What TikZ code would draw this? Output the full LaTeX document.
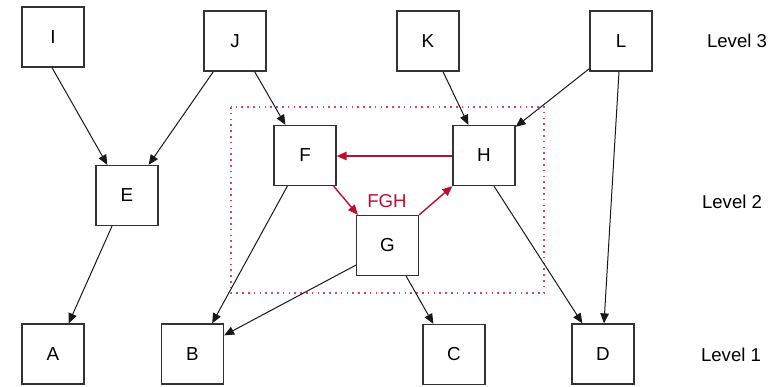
\documentclass[tikz,border=0pt]{standalone}
\usepackage{fontspec}
\setmainfont{Liberation Sans}
\usetikzlibrary{arrows.meta,calc}
\definecolor{fghred}{RGB}{184,16,46}
\definecolor{dotred}{RGB}{214,70,92}
\begin{document}
\begin{tikzpicture}[x=1pt,y=-1pt,
  box/.style={draw=black!80,line width=1.3pt,minimum width=62pt,minimum height=60pt,inner sep=0pt,font=\fontsize{18.8}{20}\selectfont},
  lbl/.style={inner sep=0pt,font=\fontsize{18.6}{20}\selectfont},
  edge/.style={draw=black!90,line width=1pt,-{Triangle[length=10pt,width=8.5pt]}},
  redge/.style={draw=fghred,line width=1.4pt,-{Triangle[length=10pt,width=8.5pt]}},
  grp/.style={draw=dotred,line width=1.4pt,dash pattern=on 1.6pt off 4.2pt}]
\useasboundingbox (0,0) rectangle (771,386);
% group
\draw[grp] (231,107) rectangle (544,293);
% nodes
\node[box] (I) at (53,37) {I};
\node[box] (J) at (235,41) {J};
\node[box] (K) at (428,41) {K};
\node[box] (L) at (621,41) {L};
\node[box] (E) at (127,195.5) {E};
\node[box] (F) at (305,155.5) {F};
\node[box] (H) at (484,155.5) {H};
\node[box] (G) at (387.5,245.5) {G};
\node[box] (A) at (53,354) {A};
\node[box] (B) at (192.5,354) {B};
\node[box] (C) at (454,354.5) {C};
\node[box] (D) at (603,354) {D};
\node[lbl,text=fghred] (fgh) at (387,201.5) {FGH};
\node[lbl] (l3) at (737,41) {Level 3};
\node[lbl] (l2) at (732,201.5) {Level 2};
\node[lbl] (l1) at (731,355) {Level 1};
% edges
\draw[edge] ($(I.south)+(-1,0)$) -- ($(E.north west)+(12,0)$);
\draw[edge] ($(J.south west)+(10,0)$) -- ($(E.north east)+(-10,0)$);
\draw[edge] ($(J.south east)+(-12,0)$) -- ($(F.north west)+(12,0)$);
\draw[edge] ($(K.south)+(15,0)$) -- ($(H.north west)+(16,0)$);
\draw[edge] ($(L.south west)+(0,-3)$) -- ($(H.north east)+(0,2)$);
\draw[edge] ($(L.south)+(-2,0)$) -- ($(D.north)+(1,0)$);
\draw[edge] ($(E.south)+(-15,0)$) -- ($(A.north east)+(-16,0)$);
\draw[edge] ($(F.south west)+(14,0)$) -- ($(B.north east)+(-12,0)$);
\draw[edge] ($(G.south west)+(0,-11)$) -- ($(B.north east)+(0,12)$);
\draw[edge] ($(G.south east)+(-13,0)$) -- ($(C.north west)+(11,0)$);
\draw[edge] ($(H.south)+(10,0)$) -- ($(D.north west)+(11,0)$);
\draw[redge] ($(H.west)+(0,0.5)$) -- ($(F.east)+(0,0.5)$);
\draw[redge] ($(F.south east)+(-3,0)$) -- ($(G.north west)+(2,0)$);
\draw[redge] (G.north east) -- (H.south west);
\end{tikzpicture}
\end{document}
